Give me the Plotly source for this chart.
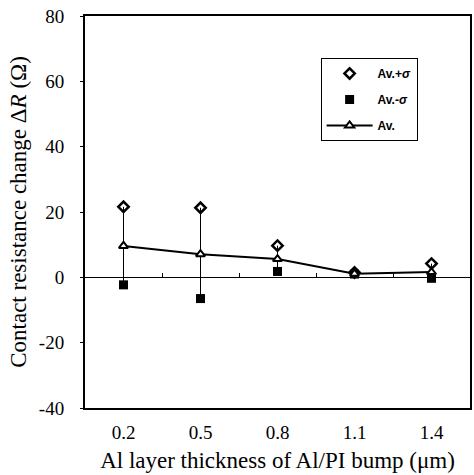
import plotly.graph_objects as go

categories = ["0.2", "0.5", "0.8", "1.1", "1.4"]
av_plus = [21.6, 21.3, 9.7, 1.5, 4.2]
av_minus = [-2.3, -6.5, 1.8, 1.0, -0.3]
av = [9.6, 7.1, 5.6, 1.1, 1.6]
y_ticks = [-40, -20, 0, 20, 40, 60, 80]
y_ticktext = ["-40", "-20", "0", "20", "40", "60", "80"]

err_up = [p - a for p, a in zip(av_plus, av)]
err_dn = [a - m for a, m in zip(av, av_minus)]

fig = go.Figure()
fig.add_trace(go.Scatter(
    x=categories, y=av_plus, mode="markers", name="<b>Av.+<i>σ</i></b>", legendgroup="a",
    marker=dict(symbol="diamond-open", size=8, color="black", line=dict(width=2.5, color="black")),
))
fig.add_trace(go.Scatter(
    x=categories, y=av_minus, mode="markers", name="<b>Av.-<i>σ</i></b>", legendgroup="b",
    marker=dict(symbol="square", size=9, color="black"),
))
fig.add_trace(go.Scatter(
    x=categories, y=av, mode="lines+markers", name="<b>Av.</b>", legendgroup="c",
    line=dict(color="black", width=2),
    marker=dict(symbol="triangle-up", size=8, color="white", line=dict(width=2, color="black")),
    error_y=dict(type="data", symmetric=False, array=err_up, arrayminus=err_dn,
                 color="black", thickness=1, width=0),
))
# invisible trace to carry the zero-crossing axis
fig.add_trace(go.Scatter(x=categories, y=av, xaxis="x2", mode="markers",
                         marker=dict(opacity=0), showlegend=False, hoverinfo="skip"))

serif = "Liberation Serif"
fig.update_layout(
    width=474, height=475,
    margin=dict(l=85, r=2, t=16, b=67),
    paper_bgcolor="white", plot_bgcolor="white",
    font=dict(family=serif, color="black", size=19),
    showlegend=True,
    legend=dict(x=0.612, y=0.893, xanchor="left", yanchor="top",
                bordercolor="black", borderwidth=1, bgcolor="white",
                font=dict(family="Liberation Sans", size=12, color="black"),
                itemwidth=46, tracegroupgap=7, traceorder="grouped"),
    xaxis=dict(type="category", range=[-0.5, 4.5], showline=True, linecolor="black",
               linewidth=2, mirror=True, ticks="", showgrid=False, zeroline=False,
               tickfont=dict(family=serif, size=19), ticklabelstandoff=6,
               title=dict(text="Al layer thickness of Al/PI bump (μm)",
                          font=dict(family=serif, size=23), standoff=10)),
    xaxis2=dict(type="category", overlaying="x", matches="x", anchor="free", position=1/3,
                showline=True, linecolor="black", linewidth=1, ticks="inside",
                tickson="boundaries", ticklen=4, tickcolor="black",
                showticklabels=False, showgrid=False, zeroline=False, side="bottom"),
    yaxis=dict(range=[-40, 80], tickvals=y_ticks, ticktext=y_ticktext, showline=True,
               linecolor="black", linewidth=2, mirror=True, ticks="outside", ticklen=3,
               tickcolor="black", showgrid=False, zeroline=False,
               tickfont=dict(family=serif, size=19), ticklabelstandoff=12,
               title=dict(text="Contact resistance change Δ<i>R</i> (Ω)",
                          font=dict(family=serif, size=23), standoff=6)),
)

fig.write_html("out.html")
